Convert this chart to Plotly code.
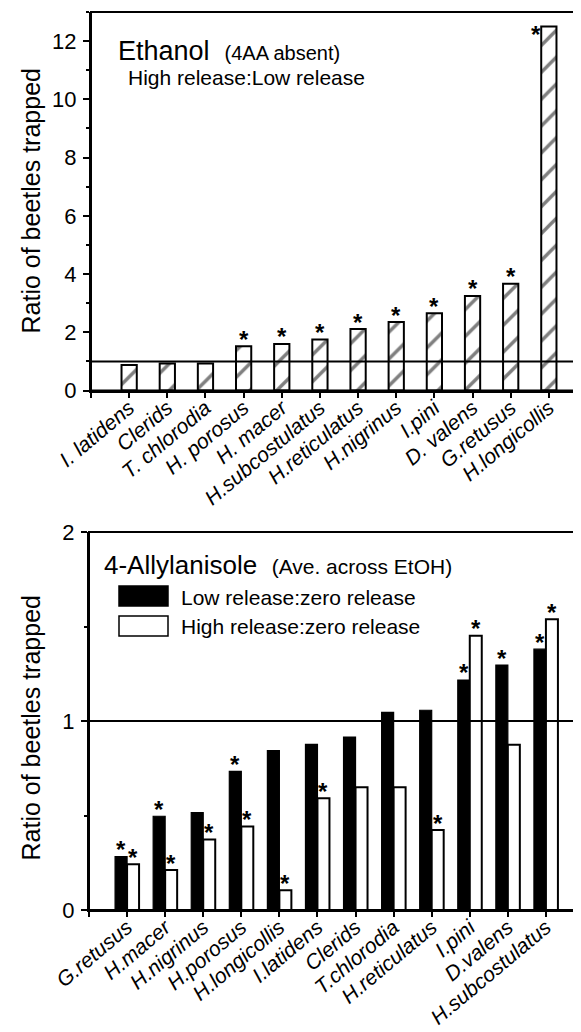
import plotly.graph_objects as go

W, H = 581, 1032

# ---------------- data ----------------
eth_labels = ["I. latidens", "Clerids", "T. chlorodia", "H. porosus", "H. macer",
              "H.subcostulatus", "H.reticulatus", "H.nigrinus", "I.pini", "D. valens",
              "G.retusus", "H.longicollis"]
eth_ratio = [0.88, 0.93, 0.93, 1.52, 1.60, 1.75, 2.11, 2.35, 2.65, 3.25, 3.67, 12.5]
eth_sig = [0, 0, 0, 1, 1, 1, 1, 1, 1, 1, 1, 1]

aa_labels = ["G.retusus", "H.macer", "H.nigrinus", "H.porosus", "H.longicollis",
             "I.latidens", "Clerids", "T.chlorodia", "H.reticulatus", "I.pini",
             "D.valens", "H.subcostulatus"]
aa_low = [0.283, 0.496, 0.515, 0.733, 0.844, 0.876, 0.915, 1.046, 1.057, 1.217, 1.296, 1.380]
aa_high = [0.242, 0.211, 0.373, 0.442, 0.104, 0.591, 0.650, 0.650, 0.423, 1.451, 0.874, 1.539]
aa_low_sig = [1, 1, 0, 1, 0, 0, 0, 0, 0, 1, 1, 1]
aa_high_sig = [1, 1, 1, 1, 1, 1, 0, 0, 1, 1, 0, 1]

top_yticks = [0, 2, 4, 6, 8, 10, 12]
bot_yticks = [0, 1, 2]

# ---------------- helpers ----------------
FONT = "Liberation Sans"


def px(x):
    return x / W


def py(y):
    return 1 - y / H


n = len(eth_labels)
pos = list(range(n))
tickpos = list(range(-1, n + 1))
eth_ticktext = [""] + eth_labels + [""]
aa_ticktext = [""] + aa_labels + [""]

top_w = 0.40
bot_w = 0.315

fig = go.Figure()

fig.add_trace(go.Bar(
    x=pos, y=eth_ratio, width=top_w, xaxis="x", yaxis="y",
    marker=dict(color="white", line=dict(color="black", width=2),
                pattern=dict(shape="/", fgcolor="black", bgcolor="white",
                             size=19, solidity=0.18)),
    showlegend=False, hoverinfo="skip"))

fig.add_trace(go.Bar(
    x=pos, y=aa_low, width=bot_w, offset=-bot_w, xaxis="x2", yaxis="y2",
    marker=dict(color="black", line=dict(color="black", width=1.2)),
    name="Low release:zero release", showlegend=False, hoverinfo="skip"))

fig.add_trace(go.Bar(
    x=pos, y=aa_high, width=bot_w, offset=0, xaxis="x2", yaxis="y2",
    marker=dict(color="white", line=dict(color="black", width=2)),
    name="High release:zero release", showlegend=False, hoverinfo="skip"))

annotations = []
star_font = dict(family=FONT, size=24, color="black")
star = dict(text="<b>*</b>", showarrow=False, font=star_font,
            xanchor="center", yanchor="middle")

top_max = 13
for i, (v, s) in enumerate(zip(eth_ratio, eth_sig)):
    if not s:
        continue
    if v > 12:
        annotations.append(dict(star, x=i, y=v, xref="x", yref="y", xshift=-13, yshift=-8))
    else:
        annotations.append(dict(star, x=i, y=v, xref="x", yref="y", yshift=7))

for i, (v, s) in enumerate(zip(aa_low, aa_low_sig)):
    if s:
        annotations.append(dict(star, x=i - bot_w / 2, y=v, xref="x2", yref="y2", yshift=7))
for i, (v, s) in enumerate(zip(aa_high, aa_high_sig)):
    if s:
        annotations.append(dict(star, x=i + bot_w / 2, y=v, xref="x2", yref="y2", yshift=7))

# titles / text
txt = dict(xref="paper", yref="paper", showarrow=False, yanchor="middle")
annotations += [
    dict(txt, x=px(22.5), y=py(193), xanchor="center",
         text="Ratio of beetles trapped", textangle=-90,
         font=dict(family=FONT, size=25, color="black")),
    dict(txt, x=px(22.5), y=py(720), xanchor="center",
         text="Ratio of beetles trapped", textangle=-90,
         font=dict(family=FONT, size=25, color="black")),
    dict(txt, x=px(108), y=py(43), xanchor="left",
         text="Ethanol&nbsp;&nbsp;<span style='font-size:20px'>(4AA absent)</span>",
         font=dict(family=FONT, size=27, color="black")),
    dict(txt, x=px(118), y=py(69), xanchor="left",
         text="High release:Low release",
         font=dict(family=FONT, size=21, color="black")),
    dict(txt, x=px(94), y=py(557), xanchor="left",
         text="4-Allylanisole&nbsp;&nbsp;<span style='font-size:21px'>(Ave. across EtOH)</span>",
         font=dict(family=FONT, size=26, color="black")),
    dict(txt, x=px(171), y=py(589), xanchor="left",
         text="Low release:zero release",
         font=dict(family=FONT, size=21, color="black")),
    dict(txt, x=px(171), y=py(618), xanchor="left",
         text="High release:zero release",
         font=dict(family=FONT, size=21, color="black")),
]

shapes = [
    dict(type="line", xref="x domain", yref="y", x0=0, x1=1, y0=1, y1=1,
         line=dict(color="black", width=2), layer="above"),
    dict(type="line", xref="x2 domain", yref="y2", x0=0, x1=1, y0=1, y1=1,
         line=dict(color="black", width=2), layer="above"),
    dict(type="rect", xref="x domain", yref="y domain", x0=0, x1=1, y0=0, y1=1,
         line=dict(color="black", width=2), layer="above"),
    dict(type="rect", xref="x2 domain", yref="y2 domain", x0=0, x1=1, y0=0, y1=1,
         line=dict(color="black", width=2), layer="above"),
    dict(type="rect", xref="paper", yref="paper", x0=px(111), x1=px(160),
         y0=py(598), y1=py(578), fillcolor="black", line=dict(color="black", width=1.5)),
    dict(type="rect", xref="paper", yref="paper", x0=px(111), x1=px(160),
         y0=py(628), y1=py(608), fillcolor="white", line=dict(color="black", width=1.5)),
]

xcommon = dict(range=[-1, n], tickmode="array", tickvals=tickpos, ticks="outside",
               ticklen=5, tickwidth=1.5, tickcolor="black", tickangle=-40,
               tickfont=dict(family=FONT, size=21, color="black", style="italic"),
               showline=True, linewidth=2, linecolor="black", mirror=False,
               showgrid=False, zeroline=False, fixedrange=True, automargin=False,
               ticklabelstandoff=-10)
ycommon = dict(ticks="outside", ticklen=6, tickwidth=1.5, tickcolor="black",
               tickfont=dict(family=FONT, size=22, color="black"),
               showline=True, linewidth=2, linecolor="black", mirror=False,
               showgrid=False, zeroline=False, ticklabelstandoff=2, fixedrange=True,
               automargin=False)

fig.update_layout(
    width=W, height=H, margin=dict(l=0, r=0, t=0, b=0, autoexpand=False),
    paper_bgcolor="white", plot_bgcolor="white", barmode="overlay",
    showlegend=False,
    xaxis=dict(xcommon, domain=[px(83), px(579)], ticktext=eth_ticktext, anchor="y"),
    yaxis=dict(ycommon, domain=[py(382.5), py(4)], range=[0, top_max],
               tickvals=top_yticks, anchor="x",
               minor=dict(dtick=1, ticks="outside", ticklen=3, tickcolor="black")),
    xaxis2=dict(xcommon, domain=[px(81), px(576)], ticktext=aa_ticktext, anchor="y2"),
    yaxis2=dict(ycommon, domain=[py(902), py(524)], range=[0, 2],
                tickvals=bot_yticks, anchor="x2",
                minor=dict(dtick=0.5, ticks="outside", ticklen=3, tickcolor="black")),
    annotations=annotations, shapes=shapes,
)

fig.write_html("out.html")
